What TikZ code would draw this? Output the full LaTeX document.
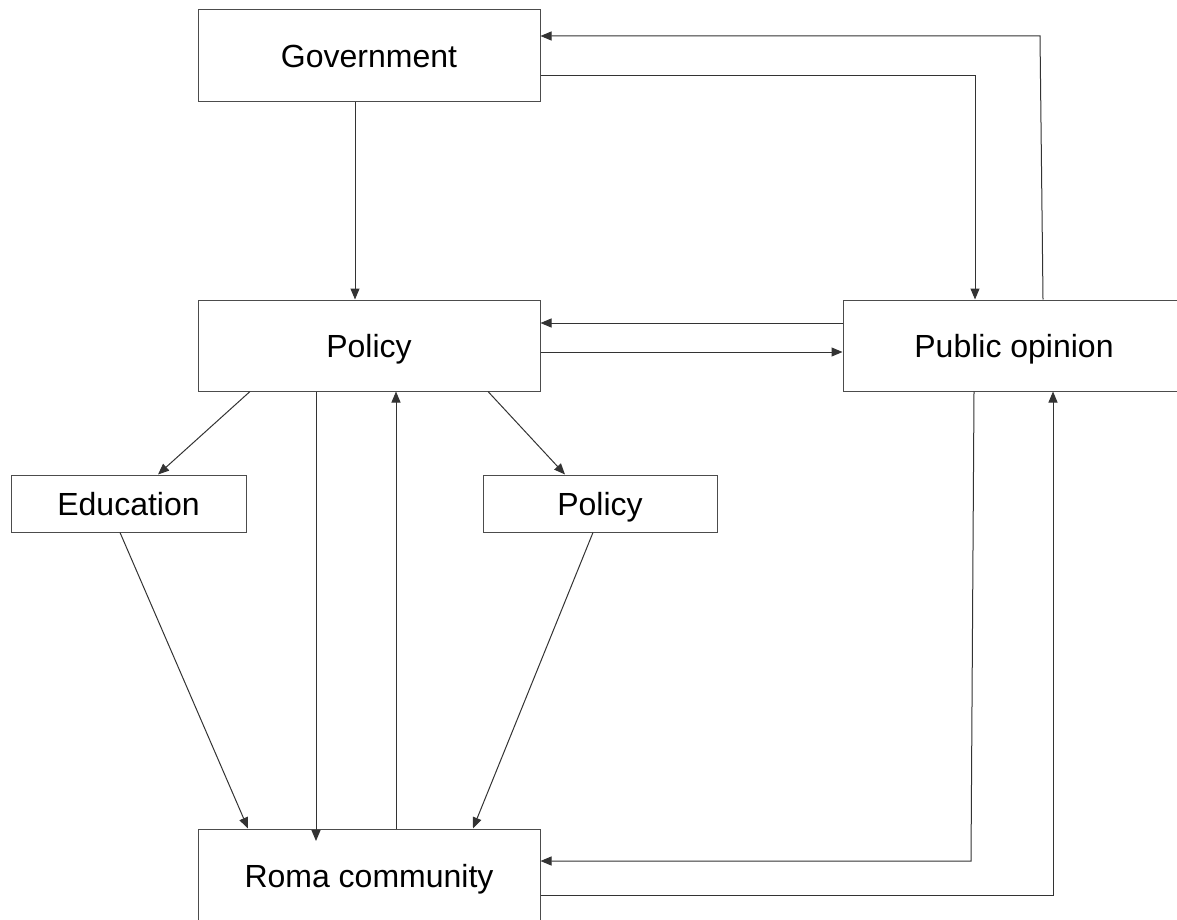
\documentclass[tikz,border=0pt]{standalone}
\usepackage{fontspec}
\setmainfont{Liberation Sans}
\usetikzlibrary{arrows.meta}
\begin{document}
\begin{tikzpicture}[x=1pt,y=-1pt,
  box/.style={draw=black!70,line width=1pt,fill=white,inner sep=0pt,text height=30pt,text depth=6pt,font=\fontsize{32}{36}\selectfont,text=black},
  arr/.style={draw=black!80,line width=1pt,-{Triangle[length=11pt,width=9pt]}},
  ln/.style={draw=black!80,line width=1pt}]
\useasboundingbox (0,0) rectangle (1177,920);
\clip (0,0) rectangle (1177,920);
\node[box,minimum width=342pt,minimum height=92pt] (gov) at (369,56) {Government};
\node[box,minimum width=342pt,minimum height=91pt] (pol) at (369,345.5) {Policy};
\node[box,minimum width=342pt,minimum height=91pt] (po) at (1014,345.5) {Public opinion};
\node[box,minimum width=235pt,minimum height=57pt] (edu) at (128.5,503.5) {Education};
\node[box,minimum width=234pt,minimum height=57pt] (pol2) at (600,503.5) {Policy};
\node[box,minimum width=342pt,minimum height=92pt] (roma) at (369,875) {Roma community};
\coordinate (r1) at (316,841);
\coordinate (k1) at (1040,36);
\coordinate (k2) at (971,861);
\coordinate (k3) at (1053,895);
\draw[arr] (gov.south -| 355,0) -- (pol.north -| 355,0);
\draw[arr] (gov.east |- 0,76) -| (po.north -| 975,0);
\draw[arr] (po.north -| 1043,0) -- (k1) -- (gov.east |- k1);
\draw[arr] (po.west |- 0,323) -- (pol.east |- 0,323);
\draw[arr] (pol.east |- 0,352) -- (po.west |- 0,352);
\draw[arr] (pol.south -| 250,0) -- (edu.north -| 158,0);
\draw[arr] (pol.south -| 488,0) -- (pol2.north -| 565,0);
\draw[arr] (pol.south -| r1) -- (r1);
\draw[arr] (roma.north -| 396,0) -- (pol.south -| 396,0);
\draw[arr] (edu.south -| 120,0) -- (roma.north -| 248,0);
\draw[arr] (pol2.south -| 593,0) -- (roma.north -| 473,0);
\draw[arr] (po.south -| 974,0) -- (k2) -- (roma.east |- k2);
\draw[arr] (roma.east |- k3) -- (k3) -- (po.south -| k3);
\end{tikzpicture}
\end{document}
